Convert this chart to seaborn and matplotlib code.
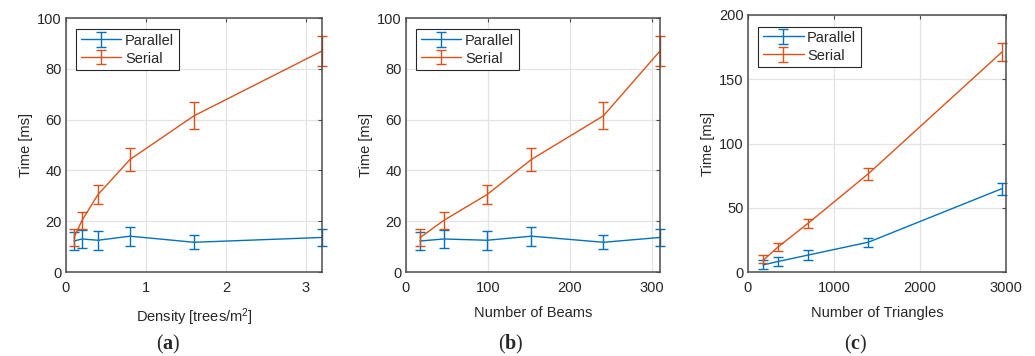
import numpy as np
import pandas as pd
import matplotlib
matplotlib.use("Agg")
import matplotlib.pyplot as plt
import seaborn as sns
from matplotlib.legend_handler import HandlerTuple

# data
density = [0.1, 0.2, 0.4, 0.8, 1.6, 3.2]
beams = [17, 46, 99, 153, 241, 310]
triangles = [175, 350, 700, 1400, 2950]

# (a) and (b) share the same timings
par_ab = [12.2, 13.0, 12.5, 14.1, 11.7, 13.6]
par_ab_lo = [8.7, 9.4, 8.8, 10.4, 8.9, 10.2]
par_ab_hi = [15.7, 16.5, 16.1, 17.8, 14.4, 16.9]
ser_ab = [13.5, 20.3, 30.5, 44.3, 61.5, 87.0]
ser_ab_lo = [10.1, 16.9, 26.8, 39.9, 56.3, 81.0]
ser_ab_hi = [16.9, 23.7, 34.1, 48.8, 66.8, 93.0]

par_c = [5.5, 8.2, 13.2, 23.2, 64.8]
par_c_lo = [2.6, 4.9, 9.6, 19.7, 60.1]
par_c_hi = [9.0, 11.4, 16.8, 26.6, 69.6]
ser_c = [9.0, 19.5, 38.0, 76.5, 171.0]
ser_c_lo = [7.0, 16.5, 34.4, 71.7, 164.2]
ser_c_hi = [12.9, 22.5, 41.4, 81.3, 177.9]

series_names = ["Parallel", "Serial"]
colors = {"Parallel": "#0072BD", "Serial": "#D95319"}

sns.set_style("white")
plt.rcParams["font.family"] = ["Liberation Sans", "DejaVu Sans"]
plt.rcParams["mathtext.fontset"] = "custom"
plt.rcParams["mathtext.rm"] = "Liberation Sans"
plt.rcParams["mathtext.it"] = "Liberation Sans:italic"
plt.rcParams["mathtext.bf"] = "Liberation Serif:bold"

FS = 10.5
W, H = 1035, 356
fig = plt.figure(figsize=(W / 100, H / 100), dpi=100)


def make_axes(left, right, top, bottom):
    return fig.add_axes([left / W, 1 - bottom / H, (right - left) / W, (bottom - top) / H])


def draw_panel(ax, x, series, xlim, ylim, xticks, yticks, xlabel):
    handles = []
    for name, (y, lo, hi) in zip(series_names, series):
        df = pd.DataFrame({"x": x, "y": y})
        sns.lineplot(data=df, x="x", y="y", ax=ax, color=colors[name], lw=1.0, legend=False)
        line = ax.lines[-1]
        y = np.array(y)
        err = [y - np.array(lo), np.array(hi) - y]
        eb = ax.errorbar(x, y, yerr=err, fmt="none", ecolor=colors[name],
                         elinewidth=1.0, capsize=3.6, capthick=1.0, clip_on=False)
        handles.append((line, eb))
    ax.set_xlim(*xlim)
    ax.set_ylim(*ylim)
    ax.set_xticks(xticks)
    ax.set_yticks(yticks)
    ax.grid(True, color="#e3e3e3", lw=0.9)
    ax.set_axisbelow(True)
    for s in ax.spines.values():
        s.set_color("#4d4d4d")
        s.set_linewidth(1.1)
    ax.tick_params(direction="in", length=3, width=0.8, color="#4d4d4d",
                   labelsize=FS, labelcolor="#262626", top=True, right=True)
    ax.tick_params(axis="x", pad=6.5)
    ax.tick_params(axis="y", pad=3)
    ax.set_xlabel(xlabel, fontsize=FS, color="#262626", labelpad=8)
    ax.set_ylabel("Time [ms]", fontsize=FS, color="#262626", labelpad=3)
    leg = ax.legend(handles, series_names, loc="upper left", fontsize=FS,
                    handler_map={tuple: HandlerTuple(ndivide=1)},
                    handlelength=2.8, handleheight=0.9, handletextpad=0.25,
                    borderpad=0.3, labelspacing=0.25, fancybox=False, framealpha=1,
                    bbox_to_anchor=(0.04, 0.955), borderaxespad=0)
    leg.get_frame().set_edgecolor("#262626")
    leg.get_frame().set_linewidth(0.8)
    for t in leg.get_texts():
        t.set_color("#262626")


ax_a = make_axes(66, 322, 18, 272)
draw_panel(ax_a, density,
           [(par_ab, par_ab_lo, par_ab_hi), (ser_ab, ser_ab_lo, ser_ab_hi)],
           (0, 3.2), (0, 100), [0, 1, 2, 3], [0, 20, 40, 60, 80, 100],
           "Density [trees/m$^2$]")
ax_b = make_axes(406, 660, 18, 272)
draw_panel(ax_b, beams,
           [(par_ab, par_ab_lo, par_ab_hi), (ser_ab, ser_ab_lo, ser_ab_hi)],
           (0, 310), (0, 100), [0, 100, 200, 300], [0, 20, 40, 60, 80, 100],
           "Number of Beams")
ax_c = make_axes(748, 1006, 15, 272)
draw_panel(ax_c, triangles,
           [(par_c, par_c_lo, par_c_hi), (ser_c, ser_c_lo, ser_c_hi)],
           (0, 3000), (0, 200), [0, 1000, 2000, 3000], [0, 50, 100, 150, 200],
           "Number of Triangles")

for xc, tag in zip([168, 511, 856], ["a", "b", "c"]):
    fig.text(xc / W, 1 - 344 / H, "(" + r"$\mathbf{" + tag + "}$" + ")",
             family="Liberation Serif", fontsize=14.5, ha="center", va="center")

fig.savefig("out.png", dpi=100)
